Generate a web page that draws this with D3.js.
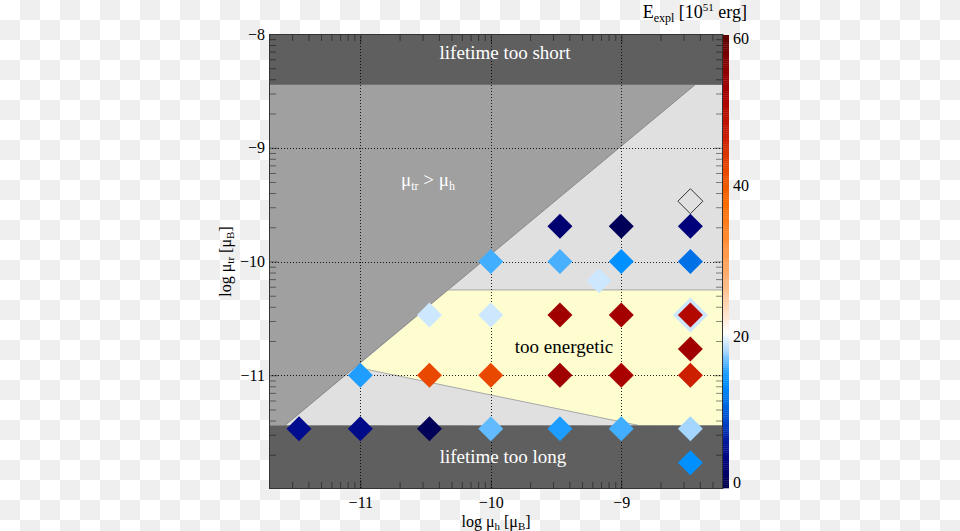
<!DOCTYPE html>
<html><head><meta charset="utf-8">
<script src="https://cdn.jsdelivr.net/npm/d3@7"></script>
<style>
body{margin:0;background:#fff}
svg{display:block}
text{font-family:"Liberation Serif","Times New Roman",serif}
</style>
</head><body>
<svg id="chart" width="960" height="531"></svg>
<script>
// ---------------- data ----------------
// points: log mu_h, log mu_tr, E_expl [1e51 erg]
const muH  = [-11.47,-11,-10.47,-10,-9.47,-9,-8.47,
              -11,-10.47,-10,-9.47,-9,-8.47,
              -8.47,
              -10.47,-10,-9.47,-9,-8.47,
              -9.17,
              -10,-9.47,-9,-8.47,
              -9.47,-9,-8.47,
              -8.47];
const muTr = [-11.47,-11.47,-11.47,-11.47,-11.47,-11.47,-11.47,
              -11,-11,-11,-11,-11,-11,
              -10.77,
              -10.47,-10.47,-10.47,-10.47,-10.47,
              -10.17,
              -10,-10,-10,-10,
              -9.69,-9.69,-9.69,
              -11.77];
const eExpl = [5,4.6,1,16.8,15,16.2,18.1,
               15.1,42,42,53,51.8,46.5,
               53,
               19.2,19.2,53,52.5,50.5,
               19.2,
               16.2,16.3,14,11.5,
               2.5,1,3.2,
               14];
// highlighted (halo) point and open (no value) point
const haloH = [-8.47], haloTr = [-10.47], haloE = [19.2];
const openH = [-8.47], openTr = [-9.47];

// region boundaries (log mu_h, log mu_tr)
const bandShortLow = -8.447;   // lifetime too short above this
const bandLongHigh = -11.44;   // lifetime too long below this
const diagH  = [-11.577, -8.435];
const diagTr = [-11.44, -8.447];
const energH  = [-10.328, -8.22, -8.22, -8.872, -11.03];
const energTr = [-10.25, -10.25, -11.44, -11.44, -10.93];

// axes
const xDomain = [-11.7, -8.22];
const yDomain = [-12, -8];
const xTicks = [-11, -10, -9];
const xTickLabels = ["\u221211", "\u221210", "\u22129"];
const yTicks = [-8, -9, -10, -11];
const yTickLabels = ["\u22128", "\u22129", "\u221210", "\u221211"];
const cTicks = [0, 20, 40, 60];
const cTickLabels = ["0", "20", "40", "60"];
const cStops  = [0,3,6,9,12,14,16,18,19.5,20.5,24,28,33,38,43,47,52,56,60];
const cColors = ["#000048","#000078","#001499","#0048cc","#0078eb","#0090ff","#38aaff","#a0d4ff","#d8ecff","#ffffff",
                 "#ffd8b8","#ffae70","#ff8a30","#f86a00","#e44000","#c81a00","#a80000","#8a0000","#5a0000"];

// ---------------- drawing ----------------
const svg = d3.select("#chart");
const L = 269, R = 723, T = 34, B = 489;
const x = d3.scaleLinear().domain(xDomain).range([L, R]);
const y = d3.scaleLinear().domain(yDomain).range([B, T]);
const color = d3.scaleLinear().domain(cStops).range(cColors).interpolate(d3.interpolateRgb).clamp(true);
const cy = d3.scaleLinear().domain([0, 60]).range([488, 35]);

// checkerboard background
const defs = svg.append("defs");
const pat = defs.append("pattern").attr("id","chk").attr("width",40).attr("height",40).attr("patternUnits","userSpaceOnUse");
pat.append("rect").attr("width",40).attr("height",40).attr("fill","#ffffff");
pat.append("rect").attr("x",20).attr("y",0).attr("width",20).attr("height",20).attr("fill","#efefef");
pat.append("rect").attr("x",0).attr("y",20).attr("width",20).attr("height",20).attr("fill","#efefef");
svg.append("rect").attr("width",960).attr("height",531).attr("fill","url(#chk)");

const g = svg.append("g");
// middle light region
g.append("rect").attr("x",L).attr("y",y(bandShortLow)).attr("width",R-L).attr("height",y(bandLongHigh)-y(bandShortLow)).attr("fill","#e0e0e0");
// mu_tr > mu_h region
const grayPoly = [[xDomain[0], bandShortLow],[diagH[1], diagTr[1]],[diagH[0], diagTr[0]],[xDomain[0], bandLongHigh]];
g.append("path").attr("d", "M" + grayPoly.map(p => [x(p[0]), y(p[1])].join(",")).join("L") + "Z").attr("fill","#a0a0a0");
// too energetic
const ePoly = energH.map((h,i) => [x(h), y(energTr[i])]);
g.append("path").attr("d","M"+ePoly.map(p=>p.join(",")).join("L")+"Z").attr("fill","#fdfdd0");
// boundary lines
g.append("line").attr("x1",x(diagH[0])).attr("y1",y(diagTr[0])).attr("x2",x(diagH[1])).attr("y2",y(diagTr[1]))
  .attr("stroke","#808080").attr("stroke-width",0.9);
g.append("path").attr("d","M"+[ePoly[0],ePoly[1]].map(p=>p.join(",")).join("L")).attr("stroke","#a8a8a8").attr("fill","none");
g.append("path").attr("d","M"+[ePoly[4],ePoly[3]].map(p=>p.join(",")).join("L")).attr("stroke","#a8a8a8").attr("fill","none");
// bands
g.append("rect").attr("x",L).attr("y",T).attr("width",R-L).attr("height",y(bandShortLow)-T).attr("fill","#5f5f5f");
g.append("rect").attr("x",L).attr("y",y(bandLongHigh)).attr("width",R-L).attr("height",B-y(bandLongHigh)).attr("fill","#5f5f5f");

// grid
const grid = g.append("g").attr("stroke","#000").attr("stroke-dasharray","1,2").attr("stroke-width",1).attr("opacity",0.85);
xTicks.forEach(v => grid.append("line").attr("x1",Math.round(x(v))+0.5).attr("x2",Math.round(x(v))+0.5).attr("y1",T).attr("y2",B));
yTicks.filter(v => v > yDomain[0] && v < yDomain[1]).forEach(v => grid.append("line").attr("y1",Math.round(y(v))+0.5).attr("y2",Math.round(y(v))+0.5).attr("x1",L).attr("x2",R));

// region labels
g.append("text").attr("x",505).attr("y",59).attr("text-anchor","middle").attr("fill","#fff").attr("font-size",19).text("lifetime too short");
g.append("text").attr("x",503).attr("y",463).attr("text-anchor","middle").attr("fill","#fff").attr("font-size",19).text("lifetime too long");
g.append("text").attr("x",564).attr("y",353).attr("text-anchor","middle").attr("fill","#000").attr("font-size",19).text("too energetic");
const mt = g.append("text").attr("x",428).attr("y",186).attr("text-anchor","middle").attr("fill","#fff").attr("font-size",19);
mt.append("tspan").text("\u03bc");
mt.append("tspan").attr("font-size",12).attr("dy",4).text("tr");
mt.append("tspan").attr("dy",-4).text(" > \u03bc");
mt.append("tspan").attr("font-size",12).attr("dy",4).text("h");

// minor ticks
const minor = (lo, hi) => {
  const out = [];
  for (let n = Math.floor(lo); n < hi; n++) for (let k = 2; k <= 9; k++) { const v = n + Math.log10(k); if (v > lo && v < hi) out.push(v); }
  return out;
};
const xMinor = minor(xDomain[0], xDomain[1]);
const yMinor = minor(yDomain[0], yDomain[1]);

function styleAxis(sel){
  sel.select(".domain").remove();
  sel.selectAll(".tick line").attr("stroke","#000").attr("stroke-opacity",0.45);
  sel.selectAll("text").attr("font-family","'Liberation Serif',serif").attr("font-size",16).attr("fill","#000");
}
const axB = g.append("g").attr("transform",`translate(0,${B})`)
  .call(d3.axisBottom(x).tickValues(xTicks).tickSize(-9).tickPadding(8).tickFormat((d,i)=>xTickLabels[i])); styleAxis(axB);
const axBm = g.append("g").attr("transform",`translate(0,${B})`).call(d3.axisBottom(x).tickValues(xMinor).tickSize(-7).tickFormat("")); styleAxis(axBm);
const axT = g.append("g").attr("transform",`translate(0,${T})`).call(d3.axisTop(x).tickValues(xTicks).tickSize(-9).tickFormat("")); styleAxis(axT);
const axTm = g.append("g").attr("transform",`translate(0,${T})`).call(d3.axisTop(x).tickValues(xMinor).tickSize(-7).tickFormat("")); styleAxis(axTm);
const axL = g.append("g").attr("transform",`translate(${L},0)`)
  .call(d3.axisLeft(y).tickValues(yTicks).tickSize(-9).tickPadding(4).tickFormat((d,i)=>yTickLabels[i])); styleAxis(axL);
const axLm = g.append("g").attr("transform",`translate(${L},0)`).call(d3.axisLeft(y).tickValues(yMinor).tickSize(-7).tickFormat("")); styleAxis(axLm);
const axR = g.append("g").attr("transform",`translate(${R},0)`).call(d3.axisRight(y).tickValues(yTicks).tickSize(-9).tickFormat("")); styleAxis(axR);
const axRm = g.append("g").attr("transform",`translate(${R},0)`).call(d3.axisRight(y).tickValues(yMinor).tickSize(-7).tickFormat("")); styleAxis(axRm);

// frame
g.append("rect").attr("x",L+0.5).attr("y",T+0.5).attr("width",R-L-1).attr("height",B-T-1).attr("fill","none").attr("stroke","#333").attr("stroke-width",1);

// points
const diamond = (half) => `M0,${-half}L${half},0L0,${half}L${-half},0Z`;
g.selectAll(".halo").data(haloE).join("path").attr("class","halo")
  .attr("transform",(d,i)=>`translate(${x(haloH[i])},${y(haloTr[i])})`).attr("d",diamond(17.5)).attr("fill",d=>color(d));
g.selectAll(".pt").data(eExpl).join("path").attr("class","pt")
  .attr("transform",(d,i)=>`translate(${x(muH[i])},${y(muTr[i])})`).attr("d",diamond(12.5)).attr("fill",d=>color(d));
g.selectAll(".open").data(openH).join("path").attr("class","open")
  .attr("transform",(d,i)=>`translate(${x(d)},${y(openTr[i])})`).attr("d",diamond(12.5)).attr("fill","none").attr("stroke","#222").attr("stroke-width",0.9);

// colorbar
const cb = svg.append("g");
const steps = d3.range(0, 60, 0.25);
cb.selectAll("rect").data(steps).join("rect").attr("x",723).attr("width",6)
  .attr("y",d=>cy(d+0.25)).attr("height",d=>cy(d)-cy(d+0.25)+0.3).attr("fill",d=>color(d+0.125));
cb.selectAll("text").data(cTicks).join("text").attr("x",733).attr("y",d=>Math.min(483, Math.max(39, cy(d))))
  .attr("dy","0.32em").attr("font-size",16).attr("fill","#000").text((d,i)=>cTickLabels[i]);

// axis titles
const tt = svg.append("text").attr("x",747).attr("y",18).attr("text-anchor","end").attr("font-size",18).attr("fill","#000");
tt.append("tspan").text("E");
tt.append("tspan").attr("font-size",12).attr("dy",4).text("expl");
tt.append("tspan").attr("dy",-4).text(" [10");
tt.append("tspan").attr("font-size",11).attr("dy",-7).text("51");
tt.append("tspan").attr("dy",7).text(" erg]");

const xl = svg.append("text").attr("x",(L+R)/2).attr("y",527).attr("text-anchor","middle").attr("font-size",16).attr("fill","#000");
xl.append("tspan").text("log \u03bc");
xl.append("tspan").attr("font-size",11).attr("dy",3).text("h");
xl.append("tspan").attr("dy",-3).text(" [\u03bc");
xl.append("tspan").attr("font-size",11).attr("dy",3).text("B");
xl.append("tspan").attr("dy",-3).text("]");

const yl = svg.append("text").attr("transform",`translate(231,${(T+B)/2}) rotate(-90)`).attr("text-anchor","middle").attr("font-size",16).attr("fill","#000");
yl.append("tspan").text("log \u03bc");
yl.append("tspan").attr("font-size",11).attr("dy",3).text("tr");
yl.append("tspan").attr("dy",-3).text(" [\u03bc");
yl.append("tspan").attr("font-size",11).attr("dy",3).text("B");
yl.append("tspan").attr("dy",-3).text("]");
</script>
</body></html>
